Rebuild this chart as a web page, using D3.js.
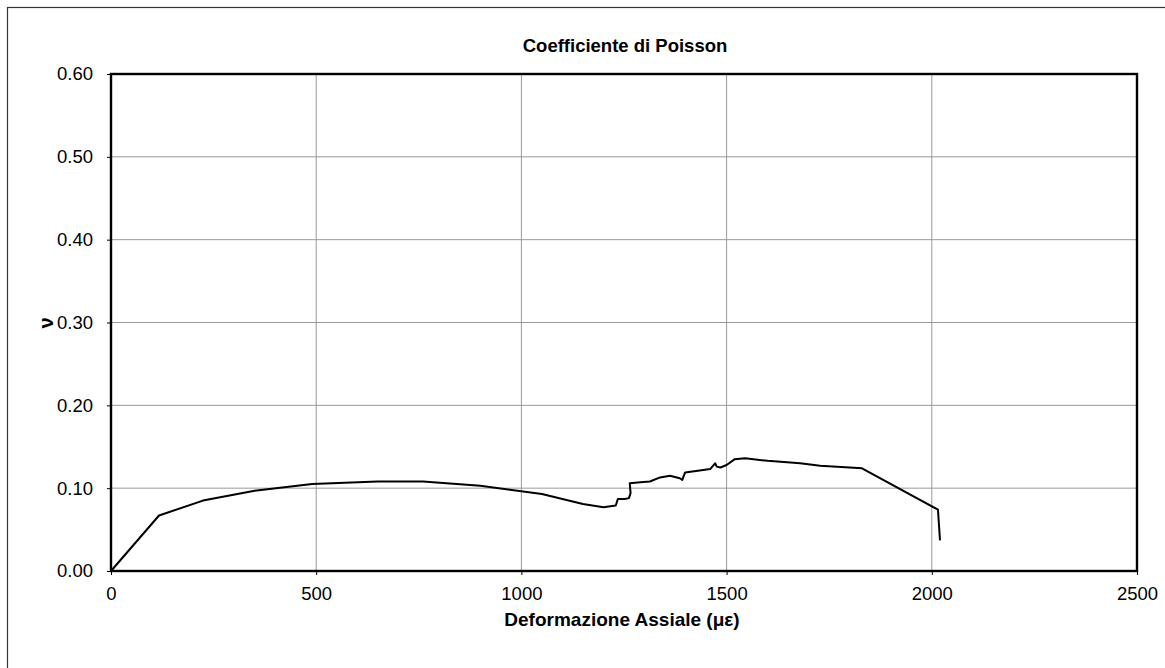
<!DOCTYPE html>
<html><head><meta charset="utf-8">
<script src="https://cdn.jsdelivr.net/npm/d3@7"></script>
<style>body{margin:0;background:#fff;}svg{display:block;font-family:Arial,"Liberation Sans",sans-serif;}</style>
</head><body>
<svg id="c" width="1165" height="668"></svg>
<script>
const xVals = [0, 117, 224, 350, 490, 650, 760, 900, 1050, 1150, 1200, 1230, 1235, 1252, 1262, 1266, 1264, 1290, 1313, 1338, 1362, 1386, 1392, 1399, 1430, 1460, 1472, 1476, 1485, 1500, 1520, 1545, 1600, 1679, 1728, 1830, 2015, 2020];
const yVals = [0.000, 0.067, 0.085, 0.097, 0.105, 0.108, 0.108, 0.103, 0.093, 0.081, 0.077, 0.079, 0.087, 0.087, 0.088, 0.094, 0.106, 0.107, 0.108, 0.113, 0.115, 0.112, 0.110, 0.119, 0.121, 0.123, 0.130, 0.126, 0.125, 0.128, 0.135, 0.136, 0.133, 0.130, 0.127, 0.124, 0.074, 0.037];
const xTicks = [0, 500, 1000, 1500, 2000, 2500];
const yTicks = [0, 0.1, 0.2, 0.3, 0.4, 0.5, 0.6];

const svg = d3.select("#c");
const m = {l:111, t:74, r:1137, b:571};
const x = d3.scaleLinear().domain([0,2500]).range([m.l, m.r]);
const y = d3.scaleLinear().domain([0,0.6]).range([m.b, m.t]);

// outer frame
svg.append("rect").attr("x",7.5).attr("y",7.5).attr("width",1175).attr("height",680)
  .attr("fill","none").attr("stroke","#333").attr("stroke-width",1.2);

// grid
svg.append("g").selectAll("line").data(yTicks).join("line")
  .attr("x1",m.l).attr("x2",m.r).attr("y1",d=>y(d)).attr("y2",d=>y(d))
  .attr("stroke","#999").attr("stroke-width",1);
svg.append("g").selectAll("line").data(xTicks).join("line")
  .attr("x1",d=>x(d)).attr("x2",d=>x(d)).attr("y1",m.t).attr("y2",m.b)
  .attr("stroke","#999").attr("stroke-width",1);

// axes
const xa = svg.append("g").attr("transform",`translate(0,${m.b})`)
  .call(d3.axisBottom(x).tickValues(xTicks).tickSize(4).tickPadding(12).tickFormat(d3.format("d")));
const ya = svg.append("g").attr("transform",`translate(${m.l},0)`)
  .call(d3.axisLeft(y).tickValues(yTicks).tickSize(4).tickPadding(14).tickFormat(d3.format(".2f")));
[xa,ya].forEach(a=>{
  a.select(".domain").remove();
  a.selectAll("line").attr("stroke","#000");
  a.selectAll("text").attr("font-size","18.5px").attr("fill","#000").attr("font-family","Arial,'Liberation Sans',sans-serif");
});

// plot border
svg.append("rect").attr("x",m.l).attr("y",m.t).attr("width",m.r-m.l).attr("height",m.b-m.t)
  .attr("fill","none").attr("stroke","#000").attr("stroke-width",2.4);

// line
const pts = xVals.map((v,i)=>[v,yVals[i]]);
svg.append("path").datum(pts)
  .attr("d", d3.line().x(d=>x(d[0])).y(d=>y(d[1])))
  .attr("fill","none").attr("stroke","#000").attr("stroke-width",2).attr("stroke-linejoin","round");

// titles
svg.append("text").attr("x",625).attr("y",52).attr("text-anchor","middle")
  .attr("font-size","18.5px").attr("font-weight","bold").text("Coefficiente di Poisson");
svg.append("text").attr("x",622).attr("y",626).attr("text-anchor","middle")
  .attr("font-size","19px").attr("font-weight","bold").text("Deformazione Assiale (με)");
svg.append("text").attr("transform","translate(46,323) rotate(-90)").attr("text-anchor","middle")
  .attr("dy","0.35em").attr("font-size","20px").attr("font-weight","bold").text("ν");
</script>
</body></html>
